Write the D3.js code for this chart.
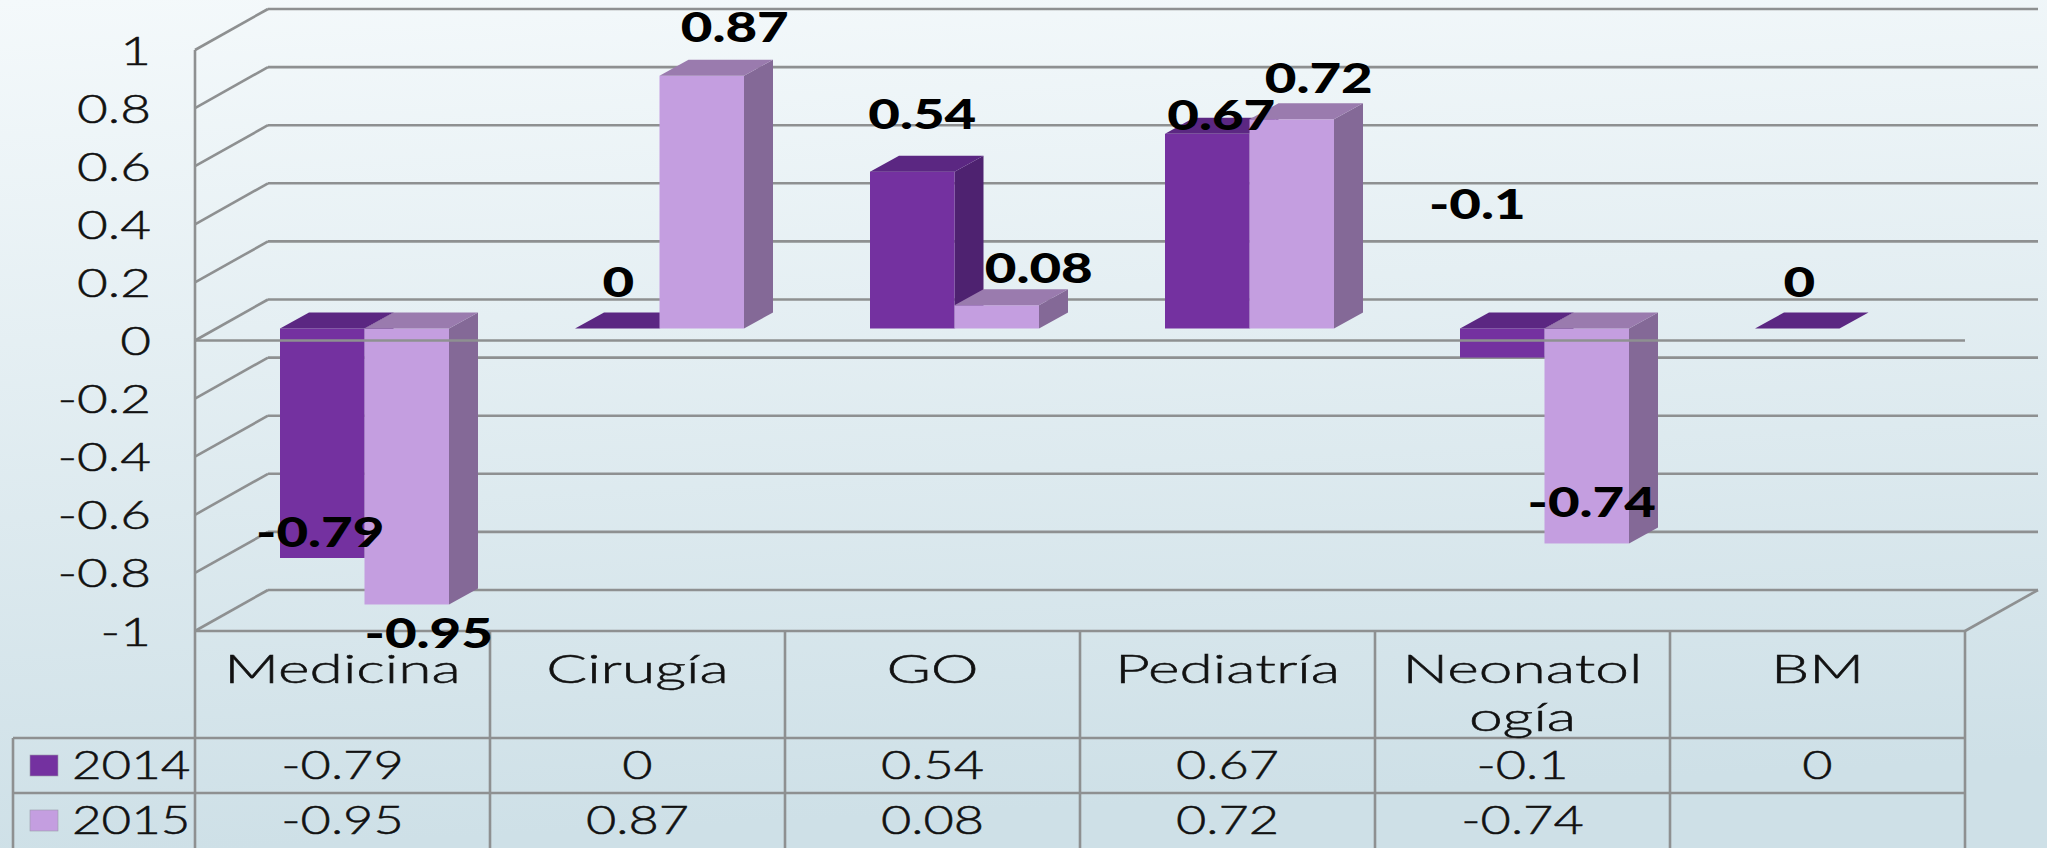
<!DOCTYPE html>
<html>
<head>
<meta charset="utf-8">
<script src="https://cdn.jsdelivr.net/npm/d3@7"></script>
<style>
  html, body { margin: 0; padding: 0; overflow: hidden; }
  text { font-family: Lato, sans-serif; fill: #111; }
</style>
</head>
<body>
<div id="chart"></div>
<script>
// --- Data ---
const categories = ["Medicina", "Cirugía", "GO", "Pediatría", "Neonatología", "BM"];
const categoryLines = [["Medicina"], ["Cirugía"], ["GO"], ["Pediatría"], ["Neonatol", "ogía"], ["BM"]];
const seriesNames = ["2014", "2015"];
const values2014 = [-0.79, 0, 0.54, 0.67, -0.1, 0];
const values2015 = [-0.95, 0.87, 0.08, 0.72, -0.74, null];
const allValues = [values2014, values2015];

// hand-placed data label offsets in the original, [dx, dy] from bar centre / bar end
const labelNudge2014 = [[-2, -11], [1, -32], [10, -43], [14, -4], [-25, -139], [2, -32]];
const labelNudge2015 = [[22, 44], [33, -34], [42, -22], [27, -26], [5, -26], [0, 0]];
const labelNudges = [labelNudge2014, labelNudge2015];

// --- Colors ---
const frontColor = ["#7431a0", "#c49ee0"];
const topColor = ["#5b2782", "#9a7bae"];
const sideColor = ["#4e2270", "#846997"];
const gridColor = "#8e9091";

// --- Dimensions ---
const W = 2047, H = 848;
const plot = { left: 195, right: 1965, top: 50, bottom: 631 };
const wall = { dx: 73, dy: 41 };
const barShift = { dx: 22, dy: 12 };
const barDepth = { dx: 29, dy: 16 };
const rowY = [738, 793, H];
const legendLeft = 13;

const svg = d3.select("#chart").append("svg")
  .attr("width", W).attr("height", H)
  .attr("viewBox", `0 0 ${W} ${H}`)
  .style("display", "block");

const grad = svg.append("defs").append("linearGradient")
  .attr("id", "bg").attr("x1", 0).attr("y1", 0).attr("x2", 0.12).attr("y2", 1);
grad.append("stop").attr("offset", 0).attr("stop-color", "#f4f9fb");
grad.append("stop").attr("offset", 1).attr("stop-color", "#cee0e7");
svg.append("rect").attr("width", W).attr("height", H).attr("fill", "url(#bg)");

// --- Scales ---
const y = d3.scaleLinear().domain([-1, 1]).range([plot.bottom, plot.top]);
const x = d3.scaleBand().domain(categories).range([plot.left, plot.right]);
const xBar = d3.scaleBand().domain(seriesNames).range([63, x.bandwidth() - 63]);
const yBar = v => y(v) - barShift.dy;
const ticks = y.ticks(10);

// stretched text, the original face is a lot wider than what is installed
function label(g, str, px, py, size, anchor, sx, bold) {
  return g.append("text")
    .attr("transform", `translate(${px},${py}) scale(${sx},1)`)
    .attr("text-anchor", anchor)
    .style("font-size", size + "px")
    .style("font-weight", bold ? 900 : 300)
    .style("fill", bold ? "#000" : "#111")
    .style("stroke", bold ? "none" : "#111")
    .style("stroke-width", bold ? 0 : 0.5)
    .text(str);
}

// --- Walls and gridlines ---
const grid = svg.append("g").attr("stroke", gridColor).attr("stroke-width", 2.6).attr("fill", "none");
ticks.forEach(t => {
  grid.append("line")
    .attr("x1", plot.left + wall.dx).attr("x2", plot.right + wall.dx)
    .attr("y1", y(t) - wall.dy).attr("y2", y(t) - wall.dy);
  grid.append("line")
    .attr("x1", plot.left).attr("x2", plot.left + wall.dx)
    .attr("y1", y(t)).attr("y2", y(t) - wall.dy);
});
grid.append("line")
  .attr("x1", plot.right).attr("x2", plot.right + wall.dx)
  .attr("y1", y(-1)).attr("y2", y(-1) - wall.dy);

// --- Axis ---
const axis = svg.append("g")
  .attr("transform", `translate(${plot.left},0)`)
  .call(d3.axisLeft(y).tickValues(ticks).tickSize(0).tickFormat(d => String(d).replace("−", "-")));
axis.select(".domain").remove();
axis.selectAll("text")
  .attr("x", null).attr("dy", null)
  .attr("transform", "translate(-44,14) scale(1.36,1)")
  .attr("text-anchor", "end")
  .style("font-size", "39px")
  .style("font-weight", 300)
  .style("font-family", "Lato, sans-serif")
  .style("fill", "#111")
  .style("stroke", "#111")
  .style("stroke-width", 0.5);

// --- Bars ---
const bars = svg.append("g");
categories.forEach((c, i) => {
  seriesNames.forEach((s, j) => {
    const v = allValues[j][i];
    if (v === null) return;
    const x0 = x(c) + xBar(s) + barShift.dx;
    const x1 = x0 + xBar.bandwidth();
    const top = yBar(Math.max(v, 0));
    const bottom = yBar(Math.min(v, 0));
    const d = barDepth;
    if (top !== bottom) {
      bars.append("polygon").attr("fill", sideColor[j])
        .attr("points", [[x1, top], [x1 + d.dx, top - d.dy], [x1 + d.dx, bottom - d.dy], [x1, bottom]].join(" "));
      bars.append("rect").attr("fill", frontColor[j])
        .attr("x", x0).attr("y", top).attr("width", x1 - x0).attr("height", bottom - top);
    }
    bars.append("polygon").attr("fill", topColor[j])
      .attr("points", [[x0, top], [x0 + d.dx, top - d.dy], [x1 + d.dx, top - d.dy], [x1, top]].join(" "));
  });
});

// --- Front lines, on top of the bars ---
const front = svg.append("g").attr("stroke", gridColor).attr("stroke-width", 2.6);
front.append("line").attr("x1", plot.left).attr("x2", plot.right).attr("y1", y(0)).attr("y2", y(0));
front.append("line").attr("x1", plot.left).attr("x2", plot.right).attr("y1", y(-1)).attr("y2", y(-1));
x.domain().concat("end").forEach(c => {
  const px = c === "end" ? plot.right : x(c);
  front.append("line").attr("x1", px).attr("x2", px)
    .attr("y1", c === categories[0] ? plot.top : y(-1)).attr("y2", H);
});
rowY.slice(0, 2).forEach(ry => {
  front.append("line").attr("x1", legendLeft).attr("x2", plot.right).attr("y1", ry).attr("y2", ry);
});
front.append("line").attr("x1", legendLeft).attr("x2", legendLeft).attr("y1", rowY[0]).attr("y2", H);

// --- Data table ---
const table = svg.append("g");
categories.forEach((c, i) => {
  const cx = x(c) + x.bandwidth() / 2;
  categoryLines[i].forEach((ln, k) => label(table, ln, cx, 683 + k * 48, 39, "middle", 1.55, false));
  allValues.forEach((vals, j) => {
    if (vals[i] !== null) label(table, String(vals[i]), cx, rowY[j] + 41, 39, "middle", 1.34, false);
  });
});
seriesNames.forEach((s, j) => {
  table.append("rect")
    .attr("x", 30).attr("y", rowY[j] + 17).attr("width", 28).attr("height", 21)
    .attr("fill", frontColor[j]).attr("stroke", "#9a9aa8").attr("stroke-width", 0.6);
  label(table, s, 72, rowY[j] + 41, 39, "start", 1.31, false);
});

// --- Data labels ---
const labels = svg.append("g");
categories.forEach((c, i) => {
  seriesNames.forEach((s, j) => {
    const v = allValues[j][i];
    if (v === null) return;
    const cx = x(c) + xBar(s) + barShift.dx + xBar.bandwidth() / 2;
    const [dx, dy] = labelNudges[j][i];
    label(labels, String(v), cx + dx, yBar(v) + dy, 42, "middle", 1.3, true);
  });
});
</script>
</body>
</html>
